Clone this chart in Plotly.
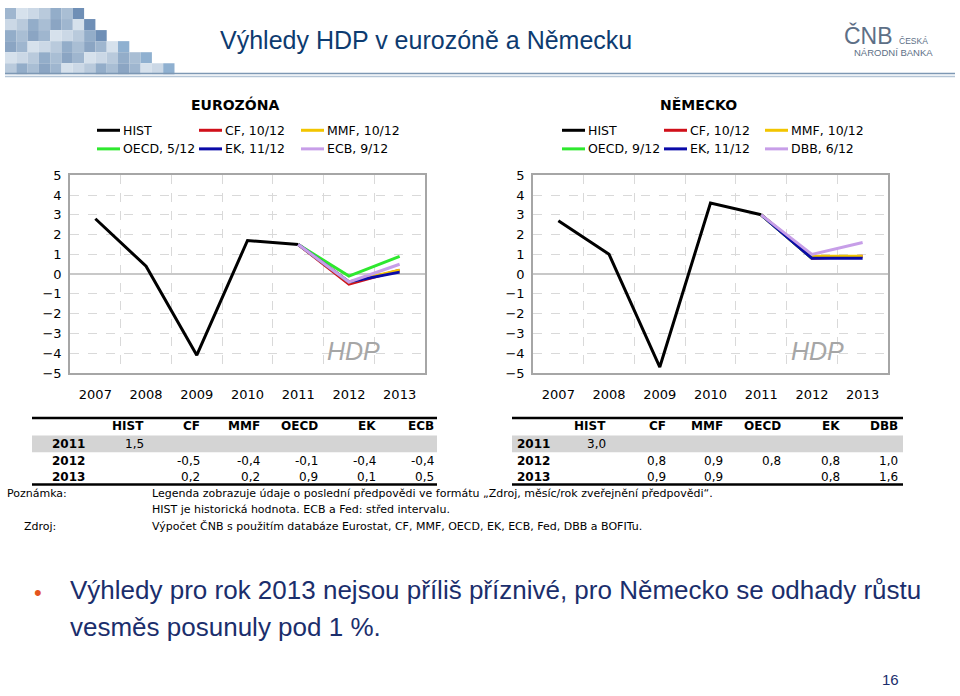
import plotly.graph_objects as go

W, H = 960, 696


def px(x):
    return x / W


def py(y):
    return 1 - y / H


# ---------------- DATA ----------------
years = ["2007", "2008", "2009", "2010", "2011", "2012", "2013"]

# Eurozone
ez_hist = [2.8, 0.4, -4.1, 1.7, 1.5, None, None]
ez_cf = [None, None, None, None, 1.5, -0.5, 0.2]
ez_mmf = [None, None, None, None, 1.5, -0.4, 0.2]
ez_oecd = [None, None, None, None, 1.5, -0.1, 0.9]
ez_ek = [None, None, None, None, 1.5, -0.4, 0.1]
ez_ecb = [None, None, None, None, 1.5, -0.4, 0.5]
ez_labels = ["HIST", "CF, 10/12", "MMF, 10/12", "OECD, 5/12", "EK, 11/12", "ECB, 9/12"]

# Germany
de_hist = [2.7, 1.0, -4.7, 3.6, 3.0, None, None]
de_cf = [None, None, None, None, 3.0, 0.8, 0.9]
de_mmf = [None, None, None, None, 3.0, 0.9, 0.9]
de_oecd = [None, None, None, None, 3.0, 0.8, None]
de_ek = [None, None, None, None, 3.0, 0.8, 0.8]
de_dbb = [None, None, None, None, 3.0, 1.0, 1.6]
de_labels = ["HIST", "CF, 10/12", "MMF, 10/12", "OECD, 9/12", "EK, 11/12", "DBB, 6/12"]

ez_cols = ["HIST", "CF", "MMF", "OECD", "EK", "ECB"]
de_cols = ["HIST", "CF", "MMF", "OECD", "EK", "DBB"]
table_years = ["2011", "2012", "2013"]

series_colors = ["#000000", "#d0101a", "#f2c500", "#2ee82e", "#0a0aa8", "#c79ee8"]

# ---------------- FIGURE ----------------
fig = go.Figure()

ez_series = [ez_hist, ez_cf, ez_mmf, ez_oecd, ez_ek, ez_ecb]
de_series = [de_hist, de_cf, de_mmf, de_oecd, de_ek, de_dbb]

for vals, name, col in zip(ez_series, ez_labels, series_colors):
    fig.add_trace(go.Scatter(x=years, y=vals, mode="lines", name=name,
                             line=dict(color=col, width=3), xaxis="x", yaxis="y",
                             showlegend=False, connectgaps=False))
for vals, name, col in zip(de_series, de_labels, series_colors):
    fig.add_trace(go.Scatter(x=years, y=vals, mode="lines", name=name,
                             line=dict(color=col, width=3), xaxis="x2", yaxis="y2",
                             showlegend=False, connectgaps=False))

tickfont = dict(family="DejaVu Sans, Verdana, sans-serif", size=13, color="#000000")
common_x = dict(type="category", range=[-0.5, 6.5], tickson="boundaries", ticks="",
                showgrid=True, gridcolor="#d9d9d9", griddash="dash", gridwidth=1,
                showline=True, mirror=True, linecolor="#a6a6a6", linewidth=1.5,
                tickfont=tickfont, ticklabelstandoff=9, fixedrange=True)
common_y = dict(range=[-5, 5], dtick=1, showgrid=True, gridcolor="#d9d9d9",
                griddash="dash", gridwidth=1, zeroline=True, zerolinecolor="#c8c8c8",
                zerolinewidth=1.5, showline=True, mirror=True, linecolor="#a6a6a6",
                linewidth=1.5, ticks="", tickfont=tickfont, ticklabelstandoff=4,
                fixedrange=True)

fig.update_layout(
    width=W, height=H, margin=dict(l=0, r=0, t=0, b=0),
    paper_bgcolor="white", plot_bgcolor="white",
    xaxis=dict(domain=[px(70), px(425)], anchor="y", **common_x),
    yaxis=dict(domain=[py(374), py(172)], anchor="x", **common_y),
    xaxis2=dict(domain=[px(533), px(888)], anchor="y2", **common_x),
    yaxis2=dict(domain=[py(374), py(172)], anchor="x2", **common_y),
    showlegend=False,
)

shapes = []
ann = []


def add_text(x, y, text, size=12, color="#000000", family="DejaVu Sans, Verdana, sans-serif",
             xanchor="left", yanchor="middle", bold=False, italic=False):
    ann.append(dict(x=px(x), y=py(y), xref="paper", yref="paper", text=text,
                    showarrow=False, xanchor=xanchor, yanchor=yanchor,
                    font=dict(family=family, size=size, color=color,
                              weight="bold" if bold else "normal",
                              style="italic" if italic else "normal")))


# ---------------- HEADER ----------------
palette = ["#9fb6cf", "#b9cadc", "#8ba5c3", "#cbd8e6", "#a9bed4", "#d6e1ec", "#93adc9"]
row_cells = [7, 8, 9, 11, 13, 15]
cell = 11.3
for r, n in enumerate(row_cells):
    for c in range(n):
        col = palette[(r * 3 + c * 5) % len(palette)]
        if c == n - 1:
            col = "#6f8fb6" if r < 3 else "#8fb0d0"
        x0 = 5 + c * cell
        y0 = 1 + r * cell
        shapes.append(dict(type="rect", xref="paper", yref="paper",
                           x0=px(x0), x1=px(x0 + cell), y0=py(y0 + cell), y1=py(y0),
                           fillcolor=col, line=dict(width=0), layer="below"))

shapes.append(dict(type="line", xref="paper", yref="paper", x0=px(5), x1=px(955),
                   y0=py(68), y1=py(68), line=dict(color="#7d98b4", width=1.5)))
shapes.append(dict(type="line", xref="paper", yref="paper", x0=px(5), x1=px(955),
                   y0=py(71), y1=py(71), line=dict(color="#b5c5d6", width=1.5)))

add_text(426, 34, "Výhledy HDP v eurozóně a Německu", size=25, color="#0d3b70",
         family="Liberation Sans, Arial, sans-serif", xanchor="center")

# CNB logo
add_text(895, 29, "ČNB", size=23, color="#5d6f86",
         family="Liberation Sans, Arial, sans-serif", xanchor="right")
add_text(897, 35, "ČESKÁ", size=8.5, color="#5d6f86", family="Liberation Sans, Arial, sans-serif")
add_text(852, 47, "NÁRODNÍ BANKA", size=9.5, color="#5d6f86", family="Liberation Sans, Arial, sans-serif")

# ---------------- LEGENDS ----------------
add_text(235, 100, "EUROZÓNA", size=14, bold=True, xanchor="center")
add_text(698, 100, "NĚMECKO", size=14, bold=True, xanchor="center")


def legend(col_x, labels):
    rows_y = [126, 145]
    for i, (lab, colr) in enumerate(zip(labels, series_colors)):
        r, c = divmod(i, 3)
        x0 = col_x[c]
        y = rows_y[r]
        shapes.append(dict(type="line", xref="paper", yref="paper", x0=px(x0), x1=px(x0 + 23),
                           y0=py(y), y1=py(y), line=dict(color=colr, width=3)))
        add_text(x0 + 24, y, lab, size=12.5)


legend([97, 199, 301], ez_labels)
legend([562, 664, 765], de_labels)

# HDP labels
add_text(353, 352, "HDP", size=25, color="#a6a6a6", family="Liberation Sans, Arial, sans-serif",
         xanchor="center", italic=True)
add_text(817, 352, "HDP", size=25, color="#a6a6a6", family="Liberation Sans, Arial, sans-serif",
         xanchor="center", italic=True)


# ---------------- TABLES ----------------
def fmt(v):
    return "" if v is None else f"{v:.1f}".replace(".", ",")


def table(x_left, x_right, label_x, col_xs, cols, series):
    shapes.append(dict(type="rect", xref="paper", yref="paper", x0=px(x_left), x1=px(x_right),
                       y0=py(455), y1=py(438), fillcolor="#d4d4d4", line=dict(width=0),
                       layer="below"))
    shapes.append(dict(type="line", xref="paper", yref="paper", x0=px(x_left), x1=px(x_right),
                       y0=py(420), y1=py(420), line=dict(color="#000000", width=2.5)))
    shapes.append(dict(type="line", xref="paper", yref="paper", x0=px(x_left), x1=px(x_right),
                       y0=py(488), y1=py(488), line=dict(color="#000000", width=2.5)))
    for cx, name in zip(col_xs, cols):
        add_text(cx, 428.5, name, size=12, bold=True, xanchor="right")
    row_y = [446.5, 464, 480]
    for ry, yr in zip(row_y, table_years):
        add_text(label_x, ry, yr, size=12, bold=True, xanchor="right")
    # 2011 historical value
    add_text(col_xs[0], row_y[0], fmt(series[0][4]), size=12, xanchor="right")
    for j in range(1, 6):
        for k, idx in enumerate([5, 6]):
            t = fmt(series[j][idx])
            if t:
                add_text(col_xs[j], row_y[k + 1], t, size=12, xanchor="right")


table(32, 437, 87, [146, 202, 262, 320, 378, 436], ez_cols, ez_series)
table(512, 903, 552, [608, 668, 725, 783, 842, 900], de_cols, de_series)

# ---------------- NOTES ----------------
nf = "DejaVu Sans, Verdana, sans-serif"
add_text(5, 497, "Poznámka:", size=11, family=nf)
add_text(150, 497, "Legenda zobrazuje údaje o poslední předpovědi ve formátu „Zdroj, měsíc/rok zveřejnění předpovědi“.",
         size=11, family=nf)
add_text(150, 514, "HIST je historická hodnota. ECB a Fed: střed intervalu.", size=11, family=nf)
add_text(22, 531, "Zdroj:", size=11, family=nf)
add_text(150, 531, "Výpočet ČNB s použitím databáze Eurostat, CF, MMF, OECD, EK, ECB, Fed, DBB a BOFITu.",
         size=11, family=nf)

# ---------------- BOTTOM TEXT ----------------
bf = "Liberation Sans, Arial, sans-serif"
add_text(38, 598, "•", size=22, color="#e4541d", family=bf, xanchor="center")
add_text(68, 596, "Výhledy pro rok 2013 nejsou příliš příznivé, pro Německo se odhady růstu",
         size=26, color="#1b2e6c", family=bf)
add_text(68, 634, "vesměs posunuly pod 1 %.", size=26, color="#1b2e6c", family=bf)
add_text(890, 687, "16", size=15, color="#1b2e6c", family=bf, xanchor="center")

fig.update_layout(shapes=shapes, annotations=ann)
fig.write_html("out.html", config={"displayModeBar": False},
               post_script="document.body.style.margin='0';document.body.style.overflow='hidden';")
